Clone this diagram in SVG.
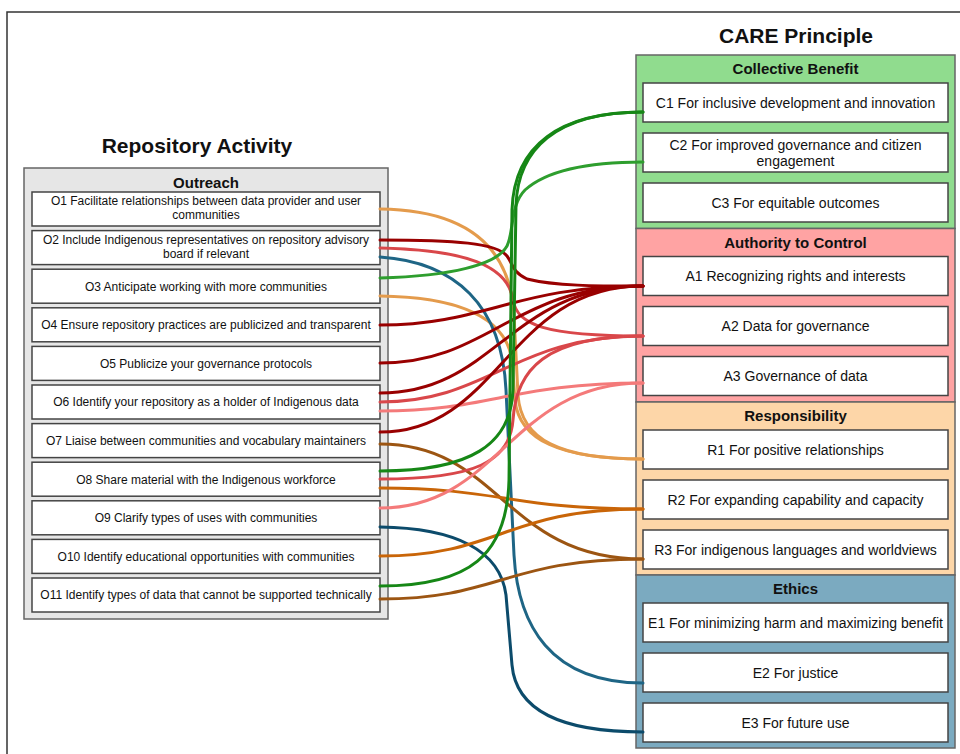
<svg xmlns="http://www.w3.org/2000/svg" width="960" height="754" viewBox="0 0 960 754">
<style>
.t{font-family:"Liberation Sans",Arial,sans-serif;font-size:12px;fill:#111;text-anchor:middle}
.r{font-size:14px}
.h{font-weight:bold;font-size:15px}
.ttl{font-weight:bold;font-size:21px}
.box{fill:#fff;stroke:#444;stroke-width:1.5}
.grp{stroke:#666;stroke-width:1.5}
.e{fill:none;stroke-width:3;stroke-linecap:round}
.tan{stroke:#E49B4C}.dr{stroke:#990000}.rd{stroke:#D9474A}.pk{stroke:#F47A7A}
.g1{stroke:#168716}.g2{stroke:#2E9E2E}.b1{stroke:#1E6585}.b2{stroke:#0C4B6B}
.ob{stroke:#C96508}.br{stroke:#9C5512}
</style>
<rect width="960" height="754" fill="#fff"/>
<path d="M7,760 V12 H962" fill="none" stroke="#333" stroke-width="1.5"/>

<g id="repository-activity">
<text class="t ttl" x="197" y="153">Repository Activity</text>
<rect x="24" y="168" width="364" height="451" fill="#E6E6E6" class="grp"/>
<text class="t h" x="206" y="188">Outreach</text>
</g>
<g id="O1"><rect class="box" x="32" y="192" width="348" height="34"/><text class="t" x="206" y="205">O1 Facilitate relationships between data provider and user</text><text class="t" x="206" y="219">communities</text></g>
<g id="O2"><rect class="box" x="32" y="230.6" width="348" height="34"/><text class="t" x="206" y="243.6">O2 Include Indigenous representatives on repository advisory</text><text class="t" x="206" y="257.6">board if relevant</text></g>
<g id="O3"><rect class="box" x="32" y="269.2" width="348" height="34"/><text class="t" x="206" y="290.5">O3 Anticipate working with more communities</text></g>
<g id="O4"><rect class="box" x="32" y="307.8" width="348" height="34"/><text class="t" x="206" y="329.1">O4 Ensure repository practices are publicized and transparent</text></g>
<g id="O5"><rect class="box" x="32" y="346.4" width="348" height="34"/><text class="t" x="206" y="367.7">O5 Publicize your governance protocols</text></g>
<g id="O6"><rect class="box" x="32" y="385" width="348" height="34"/><text class="t" x="206" y="406.3">O6 Identify your repository as a holder of Indigenous data</text></g>
<g id="O7"><rect class="box" x="32" y="423.6" width="348" height="34"/><text class="t" x="206" y="444.9">O7 Liaise between communities and vocabulary maintainers</text></g>
<g id="O8"><rect class="box" x="32" y="462.2" width="348" height="34"/><text class="t" x="206" y="483.5">O8 Share material with the Indigenous workforce</text></g>
<g id="O9"><rect class="box" x="32" y="500.8" width="348" height="34"/><text class="t" x="206" y="522.1">O9 Clarify types of uses with communities</text></g>
<g id="O10"><rect class="box" x="32" y="539.4" width="348" height="34"/><text class="t" x="206" y="560.7">O10 Identify educational opportunities with communities</text></g>
<g id="O11"><rect class="box" x="32" y="578" width="348" height="34"/><text class="t" x="206" y="599.3">O11 Identify types of data that cannot be supported technically</text></g>

<g id="care-principle">
<text class="t ttl" x="796" y="43">CARE Principle</text>
</g>
<g id="collective-benefit"><rect x="636" y="55" width="319" height="173.5" fill="#90DC8E" class="grp"/><text class="t h" x="795.5" y="74">Collective Benefit</text></g>
<g id="authority-to-control"><rect x="636" y="228.5" width="319" height="173.5" fill="#FFA3A3" class="grp"/><text class="t h" x="795.5" y="247.5">Authority to Control</text></g>
<g id="responsibility"><rect x="636" y="402" width="319" height="173" fill="#FDD6A8" class="grp"/><text class="t h" x="795.5" y="421">Responsibility</text></g>
<g id="ethics"><rect x="636" y="575" width="319" height="173" fill="#7BAAC0" class="grp"/><text class="t h" x="795.5" y="594">Ethics</text></g>

<g id="C1"><rect class="box" x="643" y="83" width="305" height="39"/><text class="t r" x="795.5" y="107.5">C1 For inclusive development and innovation</text></g>
<g id="C2"><rect class="box" x="643" y="133" width="305" height="39"/><text class="t r" x="795.5" y="149.5">C2 For improved governance and citizen</text><text class="t r" x="795.5" y="165.5">engagement</text></g>
<g id="C3"><rect class="box" x="643" y="183" width="305" height="39"/><text class="t r" x="795.5" y="207.5">C3 For equitable outcomes</text></g>
<g id="A1"><rect class="box" x="643" y="256.5" width="305" height="39"/><text class="t r" x="795.5" y="281">A1 Recognizing rights and interests</text></g>
<g id="A2"><rect class="box" x="643" y="306.5" width="305" height="39"/><text class="t r" x="795.5" y="331">A2 Data for governance</text></g>
<g id="A3"><rect class="box" x="643" y="356.5" width="305" height="39"/><text class="t r" x="795.5" y="381">A3 Governance of data</text></g>
<g id="R1"><rect class="box" x="643" y="430" width="305" height="39"/><text class="t r" x="795.5" y="454.5">R1 For positive relationships</text></g>
<g id="R2"><rect class="box" x="643" y="480" width="305" height="39"/><text class="t r" x="795.5" y="504.5">R2 For expanding capability and capacity</text></g>
<g id="R3"><rect class="box" x="643" y="530" width="305" height="39"/><text class="t r" x="795.5" y="554.5">R3 For indigenous languages and worldviews</text></g>
<g id="E1"><rect class="box" x="643" y="603" width="305" height="39"/><text class="t r" x="795.5" y="627.5">E1 For minimizing harm and maximizing benefit</text></g>
<g id="E2"><rect class="box" x="643" y="653" width="305" height="39"/><text class="t r" x="795.5" y="677.5">E2 For justice</text></g>
<g id="E3"><rect class="box" x="643" y="703" width="305" height="39"/><text class="t r" x="795.5" y="727.5">E3 For future use</text></g>

<g id="connectors">
<path class="e tan" d="M380,209 C465,210 510,245 514,315 L518,395 C521,440 560,459 643,459"/>
<path class="e tan" d="M380,296 C455,297 505,315 512,360 L515,400 C519,440 560,459 643,459"/>
<path class="e dr" d="M380,240 C455,240 497,243 507,256 C513,264 512,272 527,279 C555,286 595,286 643,286"/>
<path class="e rd" d="M380,248 C465,250 508,265 513,300 C517,325 545,336 643,336"/>
<path class="e b1" d="M380,257 C455,262 502,305 506,390 L514,555 C518,625 550,683 643,683"/>
<path class="e g2" d="M380,278 C450,276 497,265 507,246 C514,232 510,205 525,190 C545,172 585,162 643,162"/>
<path class="e dr" d="M380,325 C485,325 515,286 643,286"/>
<path class="e dr" d="M380,363 C490,363 512,286 643,286"/>
<path class="e dr" d="M380,393 C495,393 510,286 643,286"/>
<path class="e rd" d="M380,402 C490,402 512,336 643,336"/>
<path class="e pk" d="M380,411 C490,411 512,383 643,383"/>
<path class="e dr" d="M380,432 C500,432 508,286 643,286"/>
<path class="e br" d="M380,444 C500,444 505,559 643,559"/>
<path class="e g1" d="M380,471 C470,471 511,445 513,390 L516,205 C518,150 555,112 643,112"/>
<path class="e rd" d="M380,479 C475,479 510,462 513,420 C516,370 545,336 643,336"/>
<path class="e ob" d="M380,488 C500,488 510,509 643,509"/>
<path class="e pk" d="M380,508 C500,508 510,383 643,383"/>
<path class="e b2" d="M380,527 C455,528 500,550 506,595 L512,665 C516,710 560,732 643,732"/>
<path class="e ob" d="M380,556 C500,556 505,509 643,509"/>
<path class="e g1" d="M380,586 C470,586 507,555 509,480 L512,210 C514,145 560,112 643,112"/>
<path class="e br" d="M380,599 C500,599 505,559 643,559"/>
</g>
</svg>
